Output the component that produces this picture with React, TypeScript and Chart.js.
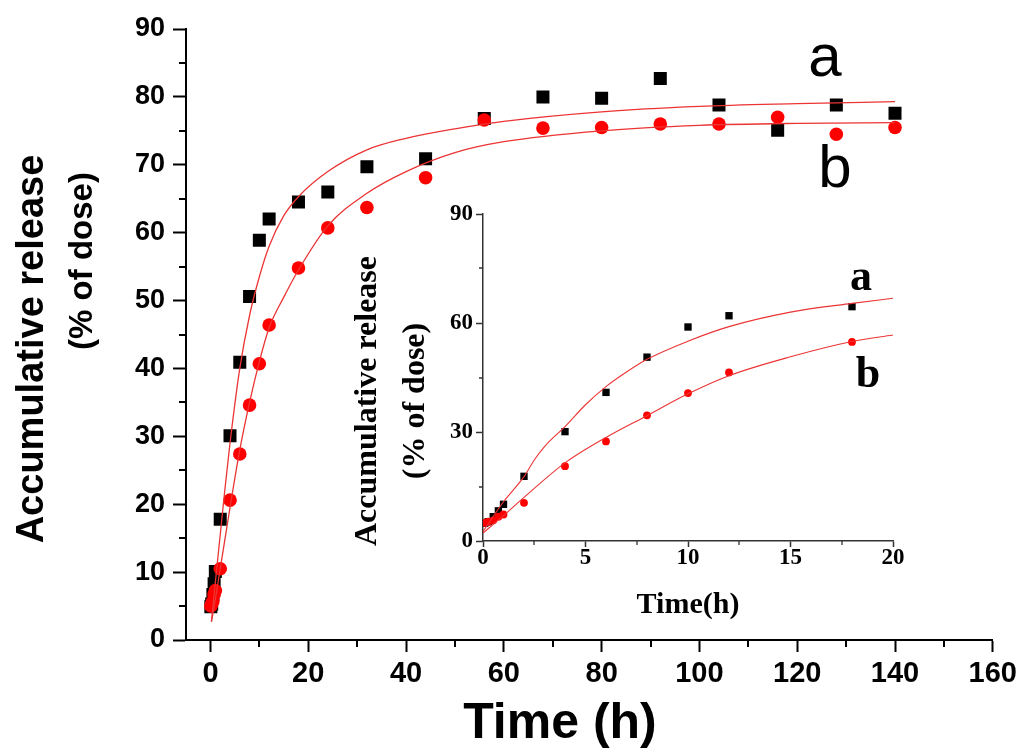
import React, { useEffect, useRef } from "react";
import { Chart, registerables } from "chart.js";

Chart.register(...registerables);

// ---------- data ----------
const TIME_H = [0.083, 0.25, 0.5, 0.75, 1, 2, 4, 6, 8, 10, 12, 18, 24, 32, 44, 56, 68, 80, 92, 104, 116, 128, 140];
const RELEASE_A = [4.9, 5.3, 6.7, 8.3, 10.1, 17.8, 30.1, 40.9, 50.6, 58.9, 62.0, 64.5, 66.0, 69.7, 70.9, 76.8, 80.0, 79.8, 82.7, 78.8, 75.1, 78.8, 77.6];
const RELEASE_B = [5.0, 5.3, 5.7, 6.7, 7.3, 10.5, 20.6, 27.4, 34.6, 40.7, 46.4, 54.8, 60.7, 63.7, 68.1, 76.6, 75.4, 75.5, 76.0, 76.0, 77.0, 74.5, 75.5];

const FIT_TIME = [0.2, 1, 2, 3, 4, 6, 8, 10, 12, 15, 18, 24, 32, 40, 50, 60, 80, 100, 120, 140];
const FIT_A = [2.7, 8.5, 15.5, 22.5, 29, 40, 47.8, 53.5, 58, 62.5, 65.3, 69, 72.2, 73.9, 75.3, 76.4, 77.8, 78.6, 79.0, 79.3];
const FIT_B = [2.7, 6, 10.5, 15, 19.5, 28, 35, 41, 46, 50.5, 54.5, 61, 65.8, 69, 71.8, 73.4, 75, 75.8, 76.1, 76.2];

const INSET_FIT_TIME_A = [0, 1, 2, 2.5, 3, 4, 5, 6, 7, 8, 10, 12, 15, 18, 20];
const INSET_FIT_A = [2.6, 10.8, 17.7, 22.3, 26, 31.5, 37.5, 42.5, 46.5, 50, 55, 59, 63, 65.4, 66.8];
const INSET_FIT_TIME_B = [0, 1, 2, 4, 6, 8, 10, 12, 15, 18, 20];
const INSET_FIT_B = [2.2, 7, 12, 21.5, 28.5, 34.5, 40.5, 45.5, 50.7, 54.9, 56.7];

const MAIN_X_TICKS = [0, 20, 40, 60, 80, 100, 120, 140, 160];
const MAIN_X_MINOR = [10, 30, 50, 70, 90, 110, 130, 150];
const MAIN_Y_TICKS = [0, 10, 20, 30, 40, 50, 60, 70, 80, 90];
const MAIN_Y_MINOR = [5, 15, 25, 35, 45, 55, 65, 75, 85];
const INSET_X_TICKS = [0, 5, 10, 15, 20];
const INSET_X_MINOR = [2.5, 7.5, 12.5, 17.5];
const INSET_Y_TICKS = [0, 30, 60, 90];
const INSET_Y_MINOR = [15, 45, 75];

const MAIN_TITLE_Y1 = "Accumulative release";
const MAIN_TITLE_Y2 = "(% of dose)";
const MAIN_TITLE_X = "Time (h)";
const INSET_TITLE_X = "Time(h)";
const CURVE_LABELS = ["a", "b"];

// ---------- styling ----------
const SANS = "'Liberation Sans', Arial, sans-serif";
const SERIF = "'Liberation Serif', 'Times New Roman', serif";
const FIT_COLOR = "rgb(236,52,52)";
const RED = "rgb(255,0,0)";

const INSET_LEFT = 330;
const INSET_TOP = 190;
const INSET_W = 590;
const INSET_H = 440;

type TextItem = { text: string; x: number; y: number; font: string; rotate?: boolean };

function pts(xs: number[], ys: number[], maxX = Infinity) {
  const out: { x: number; y: number }[] = [];
  xs.forEach((x, i) => {
    if (x <= maxX) out.push({ x, y: ys[i] });
  });
  return out;
}

function overlayPlugin(id: string, texts: TextItem[], minorX: number[], minorY: number[], len: number, color: string, width: number) {
  return {
    id,
    afterDraw(chart: any) {
      const ctx = chart.ctx as CanvasRenderingContext2D;
      const xs = chart.scales.x;
      const ys = chart.scales.y;
      const { left, bottom } = chart.chartArea;
      ctx.save();
      ctx.strokeStyle = color;
      ctx.lineWidth = width;
      ctx.beginPath();
      for (const v of minorX) {
        const px = Math.round(xs.getPixelForValue(v));
        ctx.moveTo(px, bottom);
        ctx.lineTo(px, bottom + len);
      }
      for (const v of minorY) {
        const py = Math.round(ys.getPixelForValue(v));
        ctx.moveTo(left, py);
        ctx.lineTo(left - len, py);
      }
      ctx.stroke();
      ctx.fillStyle = "#000";
      ctx.textAlign = "center";
      ctx.textBaseline = "alphabetic";
      for (const t of texts) {
        ctx.save();
        ctx.font = t.font;
        ctx.translate(t.x, t.y);
        if (t.rotate) ctx.rotate(-Math.PI / 2);
        ctx.fillText(t.text, 0, 0);
        ctx.restore();
      }
      ctx.restore();
    },
  };
}

function axis(min: number, max: number, ticks: number[], fitSize: number, horizontal: boolean, opts: any) {
  return {
    type: "linear",
    min,
    max,
    afterBuildTicks: (s: any) => {
      s.ticks = ticks.map((v) => ({ value: v }));
    },
    afterFit: (s: any) => {
      if (horizontal) s.height = fitSize;
      else s.width = fitSize;
    },
    grid: {
      drawOnChartArea: false,
      drawTicks: true,
      tickLength: opts.tickLength,
      tickWidth: opts.lineWidth,
      tickColor: opts.color,
    },
    border: { display: true, color: opts.color, width: opts.lineWidth },
    ticks: {
      color: "#000",
      autoSkip: false,
      maxRotation: 0,
      padding: opts.padding,
      font: { family: opts.family, size: opts.size, weight: "bold", lineHeight: 1 },
    },
  };
}

export default function App() {
  const mainRef = useRef<HTMLCanvasElement>(null);
  const insetRef = useRef<HTMLCanvasElement>(null);

  useEffect(() => {
    const mainTexts: TextItem[] = [
      { text: MAIN_TITLE_Y1, x: 43, y: 349, font: `bold 38px ${SANS}`, rotate: true },
      { text: MAIN_TITLE_Y2, x: 92, y: 261, font: `bold 33px ${SANS}`, rotate: true },
      { text: MAIN_TITLE_X, x: 560, y: 738, font: `bold 50px ${SANS}` },
      { text: CURVE_LABELS[0], x: 825, y: 76, font: `60px ${SANS}` },
      { text: CURVE_LABELS[1], x: 835, y: 187, font: `60px ${SANS}` },
    ];
    const main = new Chart(mainRef.current!, {
      type: "scatter",
      data: {
        datasets: [
          { label: "fit a", data: pts(FIT_TIME, FIT_A), showLine: true, borderColor: FIT_COLOR, borderWidth: 1.3, pointRadius: 0, cubicInterpolationMode: "monotone", order: 0 } as any,
          { label: "fit b", data: pts(FIT_TIME, FIT_B), showLine: true, borderColor: FIT_COLOR, borderWidth: 1.3, pointRadius: 0, cubicInterpolationMode: "monotone", order: 0 } as any,
          { label: "b", data: pts(TIME_H, RELEASE_B), pointStyle: "circle", pointRadius: 6.8, pointBackgroundColor: RED, pointBorderWidth: 0, order: 1 } as any,
          { label: "a", data: pts(TIME_H, RELEASE_A), pointStyle: "rect", pointRadius: 9.2, pointBackgroundColor: "#000", pointBorderWidth: 0, order: 2 } as any,
        ],
      },
      options: {
        animation: false,
        responsive: false,
        layout: { padding: { left: 0, top: 29, right: 31, bottom: 0 } },
        plugins: { legend: { display: false }, tooltip: { enabled: false } },
        scales: {
          x: axis(-5, 160, MAIN_X_TICKS, 112, true, { tickLength: 12, lineWidth: 2, color: "#000", padding: 7, family: SANS, size: 29 }),
          y: axis(0, 90, MAIN_Y_TICKS, 186, false, { tickLength: 13, lineWidth: 2, color: "#000", padding: 8, family: SANS, size: 27 }),
        } as any,
      },
      plugins: [overlayPlugin("mainOverlay", mainTexts, MAIN_X_MINOR, MAIN_Y_MINOR, 7, "#000", 2)],
    } as any);

    const ox = INSET_LEFT;
    const oy = INSET_TOP;
    const insetTexts: TextItem[] = [
      { text: MAIN_TITLE_Y1, x: 376 - ox, y: 401 - oy, font: `bold 32px ${SERIF}`, rotate: true },
      { text: MAIN_TITLE_Y2, x: 424 - ox, y: 401 - oy, font: `bold 32px ${SERIF}`, rotate: true },
      { text: INSET_TITLE_X, x: 688 - ox, y: 613 - oy, font: `bold 30px ${SERIF}` },
      { text: CURVE_LABELS[0], x: 861 - ox, y: 290 - oy, font: `bold 44px ${SERIF}` },
      { text: CURVE_LABELS[1], x: 868 - ox, y: 387 - oy, font: `bold 44px ${SERIF}` },
    ];
    const inset = new Chart(insetRef.current!, {
      type: "scatter",
      data: {
        datasets: [
          { label: "fit a", data: pts(INSET_FIT_TIME_A, INSET_FIT_A), showLine: true, borderColor: FIT_COLOR, borderWidth: 1.1, pointRadius: 0, cubicInterpolationMode: "monotone", order: 0 } as any,
          { label: "fit b", data: pts(INSET_FIT_TIME_B, INSET_FIT_B), showLine: true, borderColor: FIT_COLOR, borderWidth: 1.1, pointRadius: 0, cubicInterpolationMode: "monotone", order: 0 } as any,
          { label: "b", data: pts(TIME_H, RELEASE_B, 20), pointStyle: "circle", pointRadius: 3.9, pointBackgroundColor: RED, pointBorderWidth: 0, order: 1 } as any,
          { label: "a", data: pts(TIME_H, RELEASE_A, 20), pointStyle: "rect", pointRadius: 5.2, pointBackgroundColor: "#000", pointBorderWidth: 0, order: 2 } as any,
        ],
      },
      options: {
        animation: false,
        responsive: false,
        layout: { padding: { left: 0, top: 24, right: 27, bottom: 0 } },
        plugins: { legend: { display: false }, tooltip: { enabled: false } },
        scales: {
          x: axis(0, 20, INSET_X_TICKS, 89, true, { tickLength: 6, lineWidth: 1.5, color: "#333", padding: 0, family: SERIF, size: 23 }),
          y: axis(0, 90, INSET_Y_TICKS, 153, false, { tickLength: 7, lineWidth: 1.5, color: "#333", padding: 3, family: SERIF, size: 23 }),
        } as any,
      },
      plugins: [overlayPlugin("insetOverlay", insetTexts, INSET_X_MINOR, INSET_Y_MINOR, 4, "#333", 1.3)],
    } as any);

    return () => {
      main.destroy();
      inset.destroy();
    };
  }, []);

  return (
    <div style={{ position: "fixed", left: 0, top: 0, width: 1024, height: 752, background: "#fff", overflow: "hidden" }}>
      <canvas ref={mainRef} width={1024} height={752} style={{ position: "absolute", left: 0, top: 0 }} />
      <canvas ref={insetRef} width={INSET_W} height={INSET_H} style={{ position: "absolute", left: INSET_LEFT, top: INSET_TOP }} />
    </div>
  );
}
